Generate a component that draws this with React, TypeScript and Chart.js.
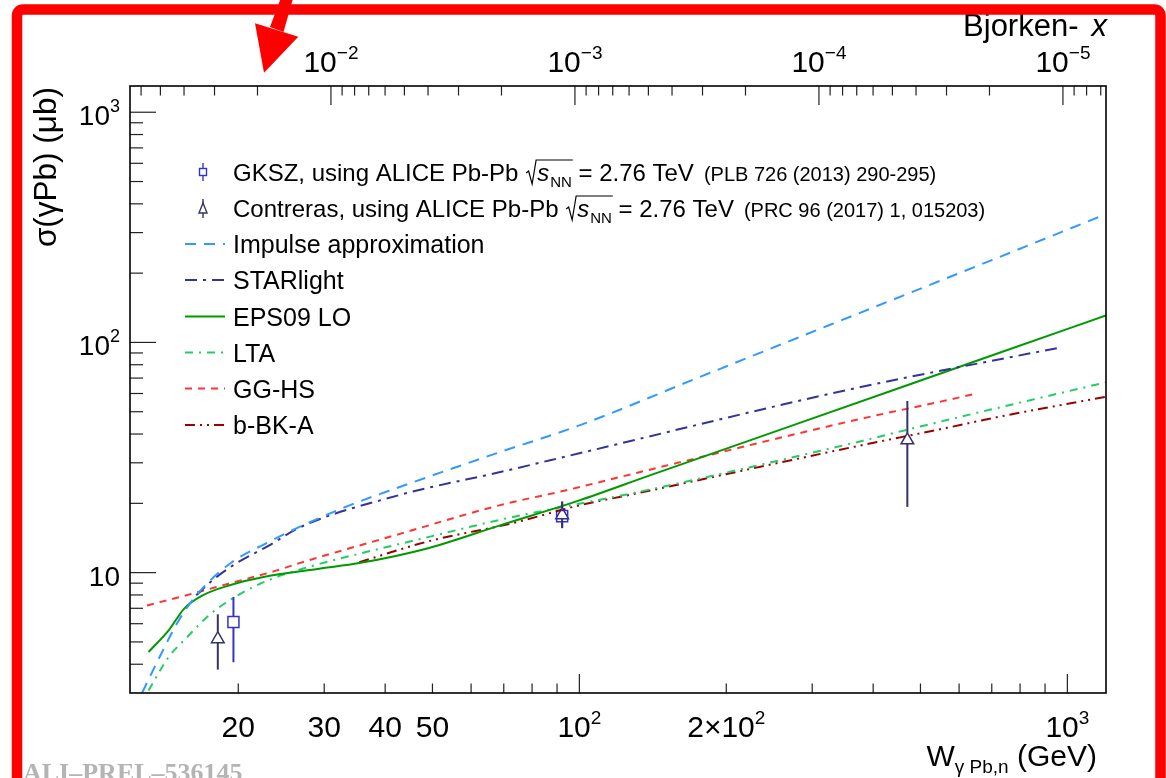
import React, { useEffect, useRef } from 'react';
import { Chart, registerables } from 'chart.js';

Chart.register(...registerables);

// ---------------- axis ranges ----------------
const MJPSI = 3.097; // Bjorken-x = (M / W)^2
const W_MIN = 12;
const W_MAX = 1200;
const S_MIN = 3;
const S_MAX = 1300;

// ---------------- theory curves: W (GeV) / sigma (ub) ----------------
const impulseW = [12.7, 13.8, 15.1, 16.6, 19.4, 22.8, 26.7, 33.8, 42.7, 68.5, 100, 176, 358, 726, 1200];
const impulseS = [3.0, 4.3, 6.2, 8.2, 11.1, 13.4, 15.8, 19.6, 23.5, 33.3, 43.6, 70.6, 129, 235, 361];

const starlightW = [16.4, 17.7, 19.8, 23.1, 26.7, 42.7, 70.2, 100, 358, 977];
const starlightS = [7.97, 9.26, 10.97, 13.1, 15.7, 21.7, 27.6, 33.0, 62.5, 95.5];

const eps09W = [13.1, 14.4, 15.5, 16.9, 19.2, 22.4, 29.3, 35.4, 49.2, 68.5, 100, 139, 282, 726, 1200];
const eps09S = [4.52, 5.61, 6.98, 7.96, 8.81, 9.55, 10.4, 11.0, 12.8, 16.0, 20.6, 26.4, 44.6, 90.2, 131];

const ltaW = [13.1, 14.4, 15.6, 17.4, 19.2, 21.4, 23.9, 27.5, 49.2, 70.8, 98.6, 134.6, 363, 510, 716, 1200];
const ltaS = [3.08, 4.3, 5.16, 6.52, 7.58, 8.63, 9.55, 10.5, 14.3, 17.2, 19.8, 22.6, 36.5, 43.6, 51.8, 67.1];

const gghsW = [13.0, 15.6, 19.2, 23.9, 26.7, 42.7, 68.5, 94, 132.7, 366, 555, 646];
const gghsS = [7.2, 7.96, 8.98, 10.2, 11.0, 14.7, 19.6, 22.8, 27.3, 45.9, 55.6, 59.7];

const bbkaW = [35.4, 49.2, 72.9, 100, 128.5, 363, 574, 716, 1200];
const bbkaS = [11.1, 13.7, 16.4, 19.6, 21.9, 35.1, 42.8, 47.3, 58.1];

// ---------------- data points ----------------
const gkszW = [19.55, 92.2];
const gkszS = [6.1, 17.6];
const gkszLo = [4.08, 15.7];
const gkszHi = [7.84, 20.4];

const contrW = [18.16, 92.2, 470];
const contrS = [5.15, 17.8, 37.6];
const contrLo = [3.79, 15.6, 19.3];
const contrHi = [6.59, 20.2, 55.7];

// ---------------- ticks & labels ----------------
const xMajorTicks = [100, 1000];
const xMinorTicks = [20, 30, 40, 50, 60, 70, 80, 90, 200, 300, 400, 500, 600, 700, 800, 900];
const xLabelValues = [20, 30, 40, 50, 100, 200, 1000];
const xLabelBase = ['20', '30', '40', '50', '10', '2\u00d710', '10'];
const xLabelSup = ['', '', '', '', '2', '2', '3'];

const yMajorTicks = [10, 100, 1000];
const yMinorTicks = [4, 5, 6, 7, 8, 9, 20, 30, 40, 50, 60, 70, 80, 90, 200, 300, 400, 500, 600, 700, 800, 900];
const yLabelValues = [10, 100, 1000];
const yLabelBase = ['10', '10', '10'];
const yLabelSup = ['', '2', '3'];

const bjMajorTicks = [1e-2, 1e-3, 1e-4, 1e-5];
const bjMinorMantissa = [2, 3, 4, 5, 6, 7, 8, 9];
const bjMinorDecades = [1e-2, 1e-3, 1e-4, 1e-5, 1e-6];
const bjLabelSup = ['\u22122', '\u22123', '\u22124', '\u22125'];

// ---------------- legend ----------------
const curveLabels = ['Impulse approximation', 'STARlight', 'EPS09 LO', 'LTA', 'GG-HS', 'b-BK-A'];
const curveColors = ['#3399ff', '#333399', '#009900', '#22cc66', '#ff3333', '#990000'];
const curveDashes = [[11, 8], [12, 6, 3, 6], [], [8, 6, 2, 6], [7, 6], [10, 5, 2, 5, 2, 5]];
const GKSZ_COLOR = '#3333cc';
const CONTR_COLOR = '#333366';

const FONT = '"Liberation Sans", Arial, Helvetica, sans-serif';

function pts(W: number[], S: number[]) {
  return W.map((w, i) => ({ x: w, y: S[i] }));
}

function curve(i: number, W: number[], S: number[]) {
  return {
    type: 'line' as const,
    label: curveLabels[i],
    data: pts(W, S),
    borderColor: curveColors[i],
    borderWidth: 2,
    borderDash: curveDashes[i],
    pointRadius: 0,
    fill: false,
    cubicInterpolationMode: 'monotone' as const,
    xAxisID: 'x',
    yAxisID: 'y',
  };
}

function drawSup(ctx: CanvasRenderingContext2D, base: string, sup: string, x: number, y: number,
  align: string, size: number, supSize: number, raise: number) {
  ctx.font = `${size}px ${FONT}`;
  const w1 = ctx.measureText(base).width;
  ctx.font = `${supSize}px ${FONT}`;
  const w2 = sup ? ctx.measureText(sup).width : 0;
  const total = w1 + w2;
  const sx = align === 'center' ? x - total / 2 : align === 'right' ? x - total : x;
  ctx.textAlign = 'left';
  ctx.textBaseline = 'alphabetic';
  ctx.font = `${size}px ${FONT}`;
  ctx.fillText(base, sx, y);
  if (sup) {
    ctx.font = `${supSize}px ${FONT}`;
    ctx.fillText(sup, sx + w1, y - raise);
  }
}

function line(ctx: CanvasRenderingContext2D, x1: number, y1: number, x2: number, y2: number) {
  ctx.beginPath();
  ctx.moveTo(x1, y1);
  ctx.lineTo(x2, y2);
  ctx.stroke();
}

function drawSqrtEntry(ctx: CanvasRenderingContext2D, x: number, base: number, lead: string, ref: string) {
  ctx.fillStyle = '#000';
  ctx.strokeStyle = '#000';
  ctx.textAlign = 'left';
  ctx.textBaseline = 'alphabetic';
  ctx.font = `24px ${FONT}`;
  ctx.fillText(lead, x, base);
  let cx = x + ctx.measureText(lead).width;
  const sx = cx + 1;
  ctx.lineWidth = 1.2;
  ctx.beginPath();
  ctx.moveTo(sx, base - 8);
  ctx.lineTo(sx + 2.5, base - 10);
  ctx.lineTo(sx + 6, base + 3);
  ctx.lineTo(sx + 10, base - 21);
  cx = sx + 11;
  ctx.font = `italic 24px ${FONT}`;
  ctx.fillText('s', cx, base);
  cx += ctx.measureText('s').width + 1;
  ctx.font = `15px ${FONT}`;
  ctx.fillText('NN', cx, base + 6);
  cx += ctx.measureText('NN').width;
  ctx.lineTo(cx + 1, base - 21);
  ctx.stroke();
  ctx.font = `24px ${FONT}`;
  ctx.fillText(' = 2.76 TeV', cx, base);
  cx += ctx.measureText(' = 2.76 TeV').width + 10;
  ctx.font = `20px ${FONT}`;
  ctx.fillText(ref, cx, base);
}

const rootPlugin = {
  id: 'rootStyle',
  beforeDraw(chart: any) {
    const ctx = chart.ctx as CanvasRenderingContext2D;
    ctx.save();
    ctx.fillStyle = '#fff';
    ctx.fillRect(0, 0, chart.width, chart.height);
    ctx.restore();
  },
  afterDatasetsDraw(chart: any) {
    const ctx = chart.ctx as CanvasRenderingContext2D;
    const xs = chart.scales.x;
    const ys = chart.scales.y;
    ctx.save();
    ctx.lineWidth = 2;
    ctx.strokeStyle = GKSZ_COLOR;
    gkszW.forEach((w, i) => {
      const px = xs.getPixelForValue(w);
      const py = ys.getPixelForValue(gkszS[i]);
      line(ctx, px, ys.getPixelForValue(gkszHi[i]), px, py - 5.5);
      line(ctx, px, py + 5.5, px, ys.getPixelForValue(gkszLo[i]));
    });
    ctx.strokeStyle = CONTR_COLOR;
    contrW.forEach((w, i) => {
      const px = xs.getPixelForValue(w);
      const py = ys.getPixelForValue(contrS[i]);
      line(ctx, px, ys.getPixelForValue(contrHi[i]), px, py - 7.3);
      line(ctx, px, py + 3.7, px, ys.getPixelForValue(contrLo[i]));
    });
    ctx.restore();
  },
  afterDraw(chart: any) {
    const ctx = chart.ctx as CanvasRenderingContext2D;
    const { left, right, top, bottom } = chart.chartArea;
    const xs = chart.scales.x;
    const ys = chart.scales.y;
    const xt = chart.scales.xTop;
    ctx.save();

    // ticks
    ctx.strokeStyle = '#222';
    ctx.lineWidth = 1.2;
    xMajorTicks.forEach((v) => { const p = xs.getPixelForValue(v); line(ctx, p, bottom, p, bottom - 19); });
    xMinorTicks.forEach((v) => { const p = xs.getPixelForValue(v); line(ctx, p, bottom, p, bottom - 9.5); });
    yMajorTicks.forEach((v) => { const p = ys.getPixelForValue(v); line(ctx, left, p, left + 26, p); });
    yMinorTicks.forEach((v) => { const p = ys.getPixelForValue(v); line(ctx, left, p, left + 13, p); });
    const bjMin = xt.min;
    const bjMax = xt.max;
    bjMajorTicks.forEach((v) => { const p = xt.getPixelForValue(v); line(ctx, p, top, p, top + 19); });
    bjMinorDecades.forEach((d) => {
      bjMinorMantissa.forEach((m) => {
        const v = m * d;
        if (v <= bjMin || v >= bjMax) return;
        const p = xt.getPixelForValue(v);
        line(ctx, p, top, p, top + 9.5);
      });
    });

    // frame
    ctx.strokeStyle = '#000';
    ctx.lineWidth = 1.6;
    ctx.strokeRect(left, top, right - left, bottom - top);

    // tick labels
    ctx.fillStyle = '#000';
    xLabelValues.forEach((v, i) => {
      drawSup(ctx, xLabelBase[i], xLabelSup[i], xs.getPixelForValue(v), 737, 'center', 30, 19, 13);
    });
    yLabelValues.forEach((v, i) => {
      drawSup(ctx, yLabelBase[i], yLabelSup[i], 120, ys.getPixelForValue(v) + 13, 'right', 28, 18, 13);
    });
    bjMajorTicks.forEach((v, i) => {
      drawSup(ctx, '10', bjLabelSup[i], xt.getPixelForValue(v), 72, 'center', 30, 19, 13);
    });

    // x title: W_{gamma Pb,n} (GeV), right aligned
    ctx.textAlign = 'left';
    ctx.textBaseline = 'alphabetic';
    ctx.font = `30px ${FONT}`;
    const tW = ctx.measureText('W').width;
    const tU = ctx.measureText(' (GeV)').width;
    ctx.font = `19px ${FONT}`;
    const tS = ctx.measureText('\u03b3 Pb,n').width;
    let tx = 1097 - (tW + tS + tU);
    ctx.font = `30px ${FONT}`;
    ctx.fillText('W', tx, 766);
    tx += tW;
    ctx.font = `19px ${FONT}`;
    ctx.fillText('\u03b3 Pb,n', tx, 773);
    tx += tS;
    ctx.font = `30px ${FONT}`;
    ctx.fillText(' (GeV)', tx, 766);

    // top title: Bjorken- x
    ctx.font = `italic 31px ${FONT}`;
    const tx2 = ctx.measureText('x').width;
    ctx.fillText('x', 1107 - tx2, 36);
    ctx.font = `31px ${FONT}`;
    ctx.textAlign = 'right';
    ctx.fillText('Bjorken-', 1107 - tx2 - 13, 36);

    // y title
    ctx.save();
    ctx.translate(56, 87);
    ctx.rotate(-Math.PI / 2);
    ctx.textAlign = 'right';
    ctx.font = `31.5px ${FONT}`;
    ctx.fillText('\u03c3(\u03b3Pb) (\u03bcb)', 0, 0);
    ctx.restore();

    // legend
    const lx = 185;
    const lx2 = 225;
    const tx0 = 233;
    ctx.strokeStyle = GKSZ_COLOR;
    ctx.lineWidth = 1.4;
    ctx.strokeRect(199.5, 168.5, 7, 7);
    line(ctx, 203, 163, 203, 168.5);
    line(ctx, 203, 175.5, 203, 181);
    drawSqrtEntry(ctx, tx0, 181, 'GKSZ, using ALICE Pb-Pb ', '(PLB 726 (2013) 290-295)');
    ctx.strokeStyle = CONTR_COLOR;
    ctx.lineWidth = 1.4;
    ctx.beginPath();
    ctx.moveTo(203, 203);
    ctx.lineTo(207, 213);
    ctx.lineTo(199, 213);
    ctx.closePath();
    ctx.stroke();
    line(ctx, 203, 199, 203, 203);
    line(ctx, 203, 213, 203, 218);
    drawSqrtEntry(ctx, tx0, 217, 'Contreras, using ALICE Pb-Pb ', '(PRC 96 (2017) 1, 015203)');
    const rowY = [244, 280, 316.5, 352.5, 388.5, 425];
    curveLabels.forEach((lab, i) => {
      ctx.strokeStyle = curveColors[i];
      ctx.lineWidth = 2;
      ctx.setLineDash(curveDashes[i]);
      line(ctx, lx, rowY[i], lx2, rowY[i]);
      ctx.setLineDash([]);
      ctx.fillStyle = '#000';
      ctx.textAlign = 'left';
      ctx.font = `25px ${FONT}`;
      ctx.fillText(lab, tx0, rowY[i] + 9);
    });

    // watermark
    ctx.fillStyle = '#b4b4b4';
    ctx.textAlign = 'left';
    ctx.font = `bold 26px "Liberation Serif", "Times New Roman", serif`;
    ctx.fillText('ALI\u2013PREL\u2013536145', 23, 781);

    // red annotation frame
    ctx.strokeStyle = '#ff0000';
    ctx.lineWidth = 10.5;
    const fl = 17, ft = 9.5, fr = 1160.5, fb = 820, rad = 6;
    ctx.beginPath();
    ctx.moveTo(fl, fb);
    ctx.lineTo(fl, ft + rad);
    ctx.arcTo(fl, ft, fl + rad, ft, rad);
    ctx.lineTo(fr - rad, ft);
    ctx.arcTo(fr, ft, fr, ft + rad, rad);
    ctx.lineTo(fr, fb);
    ctx.stroke();
    // red arrow
    ctx.fillStyle = '#ff0000';
    ctx.beginPath();
    ctx.moveTo(282, -5);
    ctx.lineTo(294, -5);
    ctx.lineTo(283.5, 32);
    ctx.lineTo(270, 27);
    ctx.closePath();
    ctx.fill();
    ctx.beginPath();
    ctx.moveTo(255, 23.3);
    ctx.lineTo(298.3, 36.7);
    ctx.lineTo(264, 72.7);
    ctx.closePath();
    ctx.fill();

    ctx.restore();
  },
};

export default function App() {
  const ref = useRef<HTMLCanvasElement>(null);
  useEffect(() => {
    document.body.style.margin = '0';
    const canvas = ref.current as HTMLCanvasElement;
    const chart = new Chart(canvas, {
      type: 'line',
      data: {
        datasets: [
          curve(0, impulseW, impulseS),
          curve(1, starlightW, starlightS),
          curve(2, eps09W, eps09S),
          curve(3, ltaW, ltaS),
          curve(4, gghsW, gghsS),
          curve(5, bbkaW, bbkaS),
          {
            type: 'line',
            label: 'GKSZ',
            data: pts(gkszW, gkszS),
            showLine: false,
            pointStyle: 'rect',
            pointRadius: 7.8,
            pointBorderWidth: 1.5,
            pointBorderColor: GKSZ_COLOR,
            pointBackgroundColor: 'rgba(0,0,0,0)',
            xAxisID: 'x',
            yAxisID: 'y',
          },
          {
            type: 'line',
            label: 'Contreras',
            data: pts(contrW, contrS),
            showLine: false,
            pointStyle: 'triangle',
            pointRadius: 7.3,
            pointBorderWidth: 1.5,
            pointBorderColor: CONTR_COLOR,
            pointBackgroundColor: 'rgba(0,0,0,0)',
            xAxisID: 'x',
            yAxisID: 'y',
          },
        ] as any,
      },
      options: {
        responsive: false,
        animation: false,
        devicePixelRatio: 1,
        layout: { padding: { left: 130, top: 86, right: 60, bottom: 85 } },
        plugins: { legend: { display: false }, tooltip: { enabled: false } },
        scales: {
          x: { type: 'logarithmic', min: W_MIN, max: W_MAX, display: false },
          y: { type: 'logarithmic', min: S_MIN, max: S_MAX, display: false },
          xTop: {
            type: 'logarithmic',
            position: 'top',
            reverse: true,
            min: (MJPSI / W_MAX) ** 2,
            max: (MJPSI / W_MIN) ** 2,
            display: false,
          },
        },
      } as any,
      plugins: [rootPlugin],
    });
    return () => chart.destroy();
  }, []);
  return (
    <div style={{ position: 'absolute', left: 0, top: 0, width: 1166, height: 778, overflow: 'hidden', background: '#fff' }}>
      <canvas ref={ref} width={1166} height={778} style={{ display: 'block', width: 1166, height: 778 }} />
    </div>
  );
}
